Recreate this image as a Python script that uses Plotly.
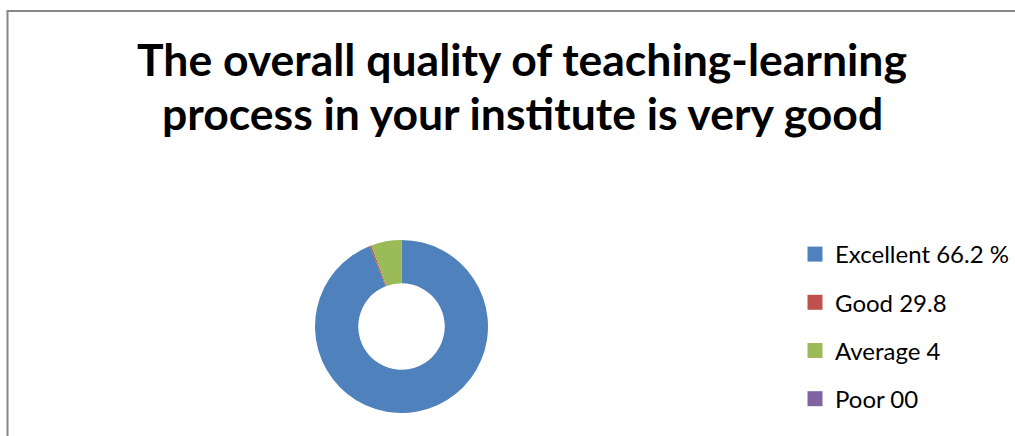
import plotly.graph_objects as go

categories = ["Excellent 66.2 %", "Good 29.8", "Average 4", "Poor 00"]
values = [66.2, 0.2, 4.0, 0.0]
colors = ["#4F81BD", "#C0504D", "#9BBB59", "#8064A2"]
title_lines = ["The overall quality of teaching-learning", "process in your institute is very good"]

W, H = 1015, 436

fig = go.Figure()
fig.add_trace(go.Pie(
    labels=categories, values=values, hole=0.5, sort=False,
    direction="clockwise", rotation=0, textinfo="none",
    marker=dict(colors=colors, line=dict(width=0)),
    showlegend=False,
    domain=dict(x=[315 / W, 488 / W], y=[1 - 413 / H, 1 - 240 / H]),
))

# legend entries
for i, (c, col) in enumerate(zip(categories, colors)):
    fig.add_trace(go.Scatter(
        x=[None], y=[None], mode="markers", name=c,
        marker=dict(symbol="square", size=15, color=col),
        legendgroup=f"g{i}", showlegend=True,
    ))

fig.update_xaxes(visible=False)
fig.update_yaxes(visible=False)

for i, line in enumerate(title_lines):
    fig.add_annotation(
        text=f"<b>{line}</b>", x=522 / W, y=1 - (58.5 + 54 * i) / H,
        xref="paper", yref="paper", showarrow=False,
        xanchor="center", yanchor="middle",
        font=dict(family="Lato", size=44.5, color="black"),
    )

fig.add_shape(type="rect", xref="paper", yref="paper",
              x0=7.5 / W, x1=1.02, y0=-0.02, y1=1 - 11 / H,
              line=dict(color="#878787", width=2), fillcolor="rgba(0,0,0,0)")

fig.update_layout(
    width=W, height=H,
    margin=dict(l=0, r=0, t=0, b=0),
    paper_bgcolor="white", plot_bgcolor="white",
    legend=dict(x=795 / W, y=1 - 232 / H, xanchor="left", yanchor="top",
                font=dict(family="Lato", size=24, color="black"),
                tracegroupgap=14, bgcolor="rgba(0,0,0,0)"),
)

fig.write_html("out.html", config={"displayModeBar": False},
               post_script="document.body.style.margin='0px';")
